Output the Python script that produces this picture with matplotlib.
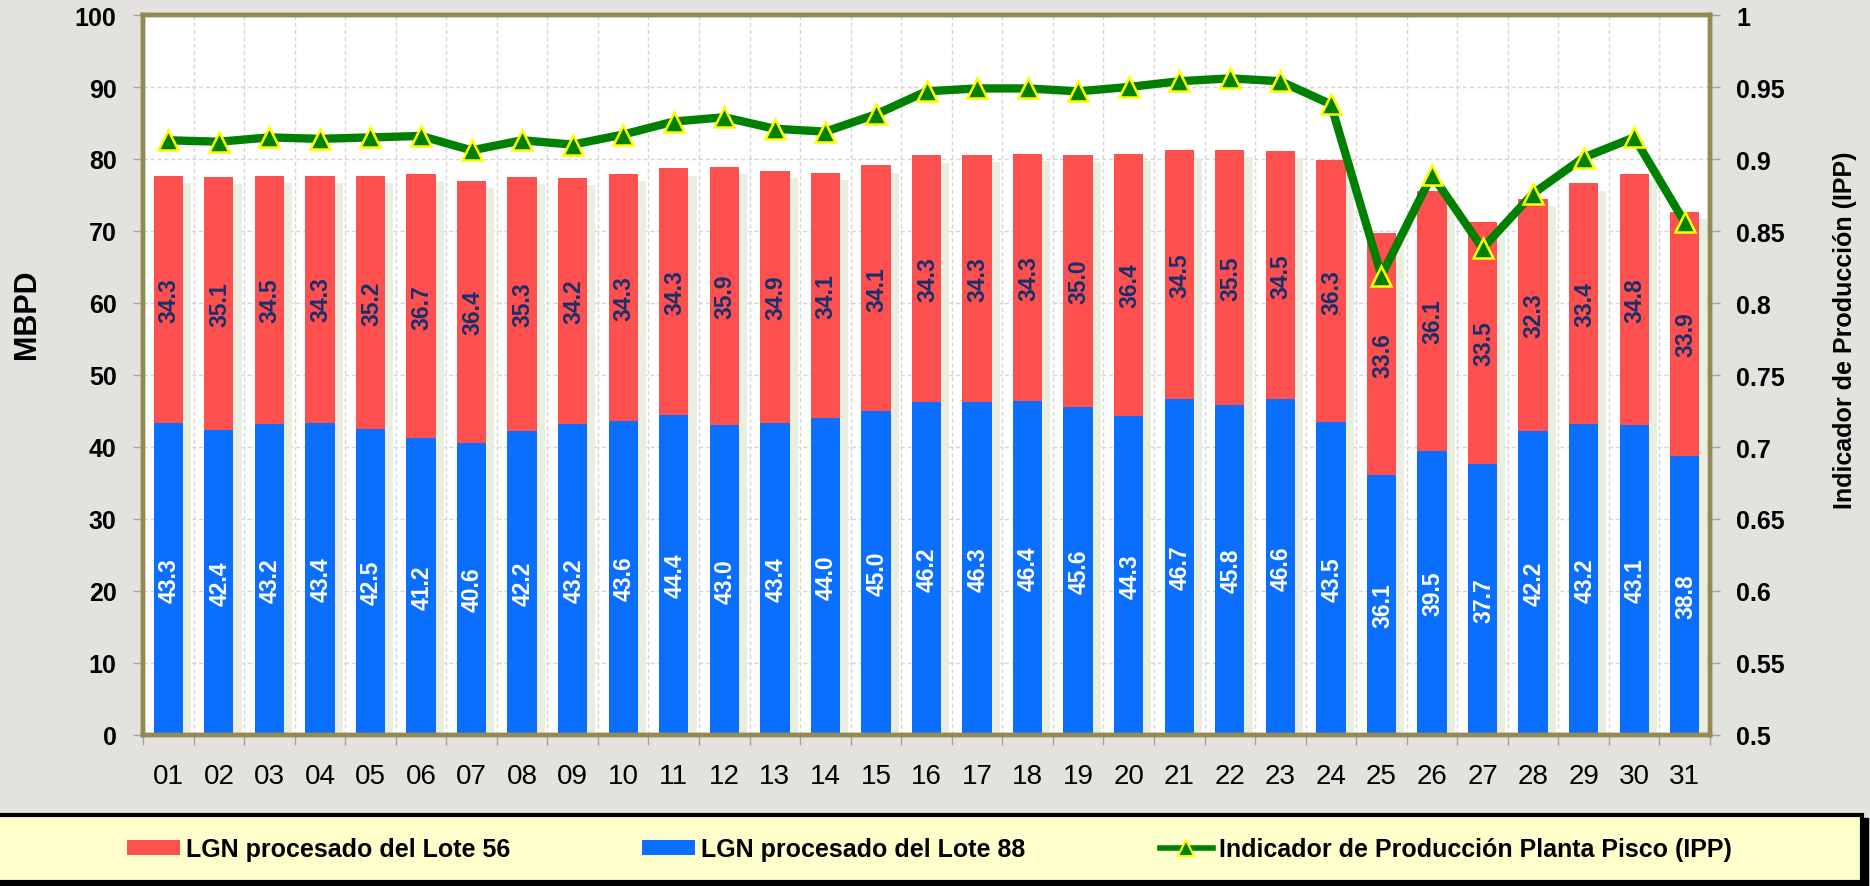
import matplotlib
matplotlib.use('Agg')
import matplotlib.pyplot as plt
import numpy as np
from matplotlib.patches import Rectangle, Patch
from matplotlib.lines import Line2D
from matplotlib.ticker import FixedLocator, MultipleLocator

plt.rcParams['font.family'] = ['Liberation Sans', 'DejaVu Sans']

days = ['01', '02', '03', '04', '05', '06', '07', '08', '09', '10', '11', '12', '13', '14', '15', '16',
        '17', '18', '19', '20', '21', '22', '23', '24', '25', '26', '27', '28', '29', '30', '31']
lote88 = [43.3, 42.4, 43.2, 43.4, 42.5, 41.2, 40.6, 42.2, 43.2, 43.6, 44.4, 43.0, 43.4, 44.0, 45.0, 46.2,
          46.3, 46.4, 45.6, 44.3, 46.7, 45.8, 46.6, 43.5, 36.1, 39.5, 37.7, 42.2, 43.2, 43.1, 38.8]
lote56 = [34.3, 35.1, 34.5, 34.3, 35.2, 36.7, 36.4, 35.3, 34.2, 34.3, 34.3, 35.9, 34.9, 34.1, 34.1, 34.3,
          34.3, 34.3, 35.0, 36.4, 34.5, 35.5, 34.5, 36.3, 33.6, 36.1, 33.5, 32.3, 33.4, 34.8, 33.9]
ipp = [0.913, 0.912, 0.915, 0.914, 0.915, 0.916, 0.906, 0.913, 0.910, 0.917, 0.926, 0.929, 0.921, 0.919,
       0.931, 0.947, 0.949, 0.949, 0.947, 0.950, 0.954, 0.956, 0.954, 0.938, 0.819, 0.889, 0.838, 0.876,
       0.901, 0.915, 0.856]

label56 = 'LGN procesado del Lote 56'
label88 = 'LGN procesado del Lote 88'
labelipp = 'Indicador de Producción Planta Pisco (IPP)'

BG = '#E3E2DE'
RED = '#FF5050'
BLUE = '#0A6EFF'
GREEN = '#008000'
OLIVE = '#948A54'
NAVY = '#17306B'

fig = plt.figure(figsize=(18.7, 8.87), dpi=100, facecolor=BG)
ax = fig.add_axes([143 / 1870, 1 - 736 / 887, (1710 - 143) / 1870, (736 - 16) / 887])
ax.set_facecolor('white')

x = np.arange(len(days))
b88 = np.array(lote88)
b56 = np.array(lote56)
tot = b88 + b56
w = 0.58

# soft shadow behind bars
ax.bar(x + 0.16, tot - 1.0, width=w, color='#EAEEE0', zorder=2, linewidth=0)
ax.bar(x, b88, width=w, color=BLUE, zorder=3, linewidth=0, label=label88)
ax.bar(x, b56, bottom=b88, width=w, color=RED, zorder=3, linewidth=0, label=label56)

for i in range(len(days)):
    ax.text(x[i] + 0.02, b88[i] / 2, f'{b88[i]:.1f}', rotation=90, ha='center', va='center',
            color='white', fontsize=16.5, fontweight='bold', zorder=4)
    ax.text(x[i] + 0.02, b88[i] + b56[i] / 2, f'{b56[i]:.1f}', rotation=90, ha='center', va='center',
            color=NAVY, fontsize=16.5, fontweight='bold', zorder=4)

ax.set_xlim(-0.5, len(days) - 0.5)
ax.set_ylim(0, 100)
ax.yaxis.set_major_locator(MultipleLocator(10))
ax.set_xticks(x)
ax.set_xticklabels(days, fontsize=20)
ax.xaxis.set_minor_locator(FixedLocator(np.arange(-0.5, len(days), 1.0)))
ax.tick_params(axis='x', which='major', length=0, pad=20, colors='black')
ax.tick_params(axis='x', which='minor', length=7, width=1, color='#A0A0A0', direction='out')
ax.tick_params(axis='y', which='major', length=7, width=1, color='#A0A0A0', pad=12, labelsize=18)
for t in ax.get_yticklabels():
    t.set_fontweight('bold')
ax.grid(True, axis='y', which='major', color='#D6D6D6', linestyle=(0, (3, 2)), linewidth=1, zorder=0)
ax.grid(True, axis='x', which='minor', color='#D6D6D6', linestyle=(0, (3, 2)), linewidth=1, zorder=0)
ax.set_axisbelow(True)
for s in ax.spines.values():
    s.set_color(OLIVE)
    s.set_linewidth(3.2)
    s.set_zorder(5)

ax.set_ylabel('MBPD', fontsize=22, fontweight='bold')
ax.yaxis.set_label_coords(-0.0645, 0.586)

ax2 = ax.twinx()
ax2.plot(x, ipp, color=GREEN, linewidth=6, marker='^', markersize=14,
         markerfacecolor=GREEN, markeredgecolor='#FFFF00', markeredgewidth=1.8, zorder=6, label=labelipp)
ax2.set_ylim(0.5, 1.0)
ax2.set_yticks(np.arange(0.5, 1.0001, 0.05))
ax2.set_yticklabels(['0.5', '0.55', '0.6', '0.65', '0.7', '0.75', '0.8', '0.85', '0.9', '0.95', '1'])
ax2.tick_params(axis='y', length=7, width=1, color='#A0A0A0', pad=12, labelsize=18)
for t in ax2.get_yticklabels():
    t.set_fontweight('bold')
for s in ax2.spines.values():
    s.set_color(OLIVE)
    s.set_linewidth(3.2)
ax2.set_ylabel('Indicador de Producción (IPP)', fontsize=18, fontweight='bold')
ax2.yaxis.set_label_coords(1.0785, 0.564)

# legend box
fig.patches.append(Rectangle((-0.01 + 0.003, 0.0 - 0.003), 1862 / 1870 + 0.01, 1 - 816 / 887,
                             transform=fig.transFigure, facecolor='black', edgecolor='black', zorder=0))
fig.patches.append(Rectangle((-0.01, 0.004), 1862 / 1870 + 0.01, 1 - 816 / 887 - 0.004,
                             transform=fig.transFigure, facecolor='#FFFFCC', edgecolor='black',
                             linewidth=3, zorder=1))

h56 = Patch(facecolor=RED, edgecolor='none', label=label56)
h88 = Patch(facecolor=BLUE, edgecolor='none', label=label88)
hipp = Line2D([], [], color=GREEN, linewidth=4, marker='^', markersize=11, markerfacecolor=GREEN,
              markeredgecolor='#FFFF00', markeredgewidth=1.5, label=labelipp)
ly = 1 - 850 / 887
for h, xs in [(h56, 127), (h88, 642), (hipp, 1160)]:
    fig.legend(handles=[h], loc='center left', bbox_to_anchor=(xs / 1870, ly), frameon=False,
               prop={'weight': 'bold', 'size': 18}, handlelength=2.1, handleheight=0.55,
               handletextpad=0.25, borderpad=0, borderaxespad=0)

fig.savefig('out.png', dpi=100, facecolor=BG)
